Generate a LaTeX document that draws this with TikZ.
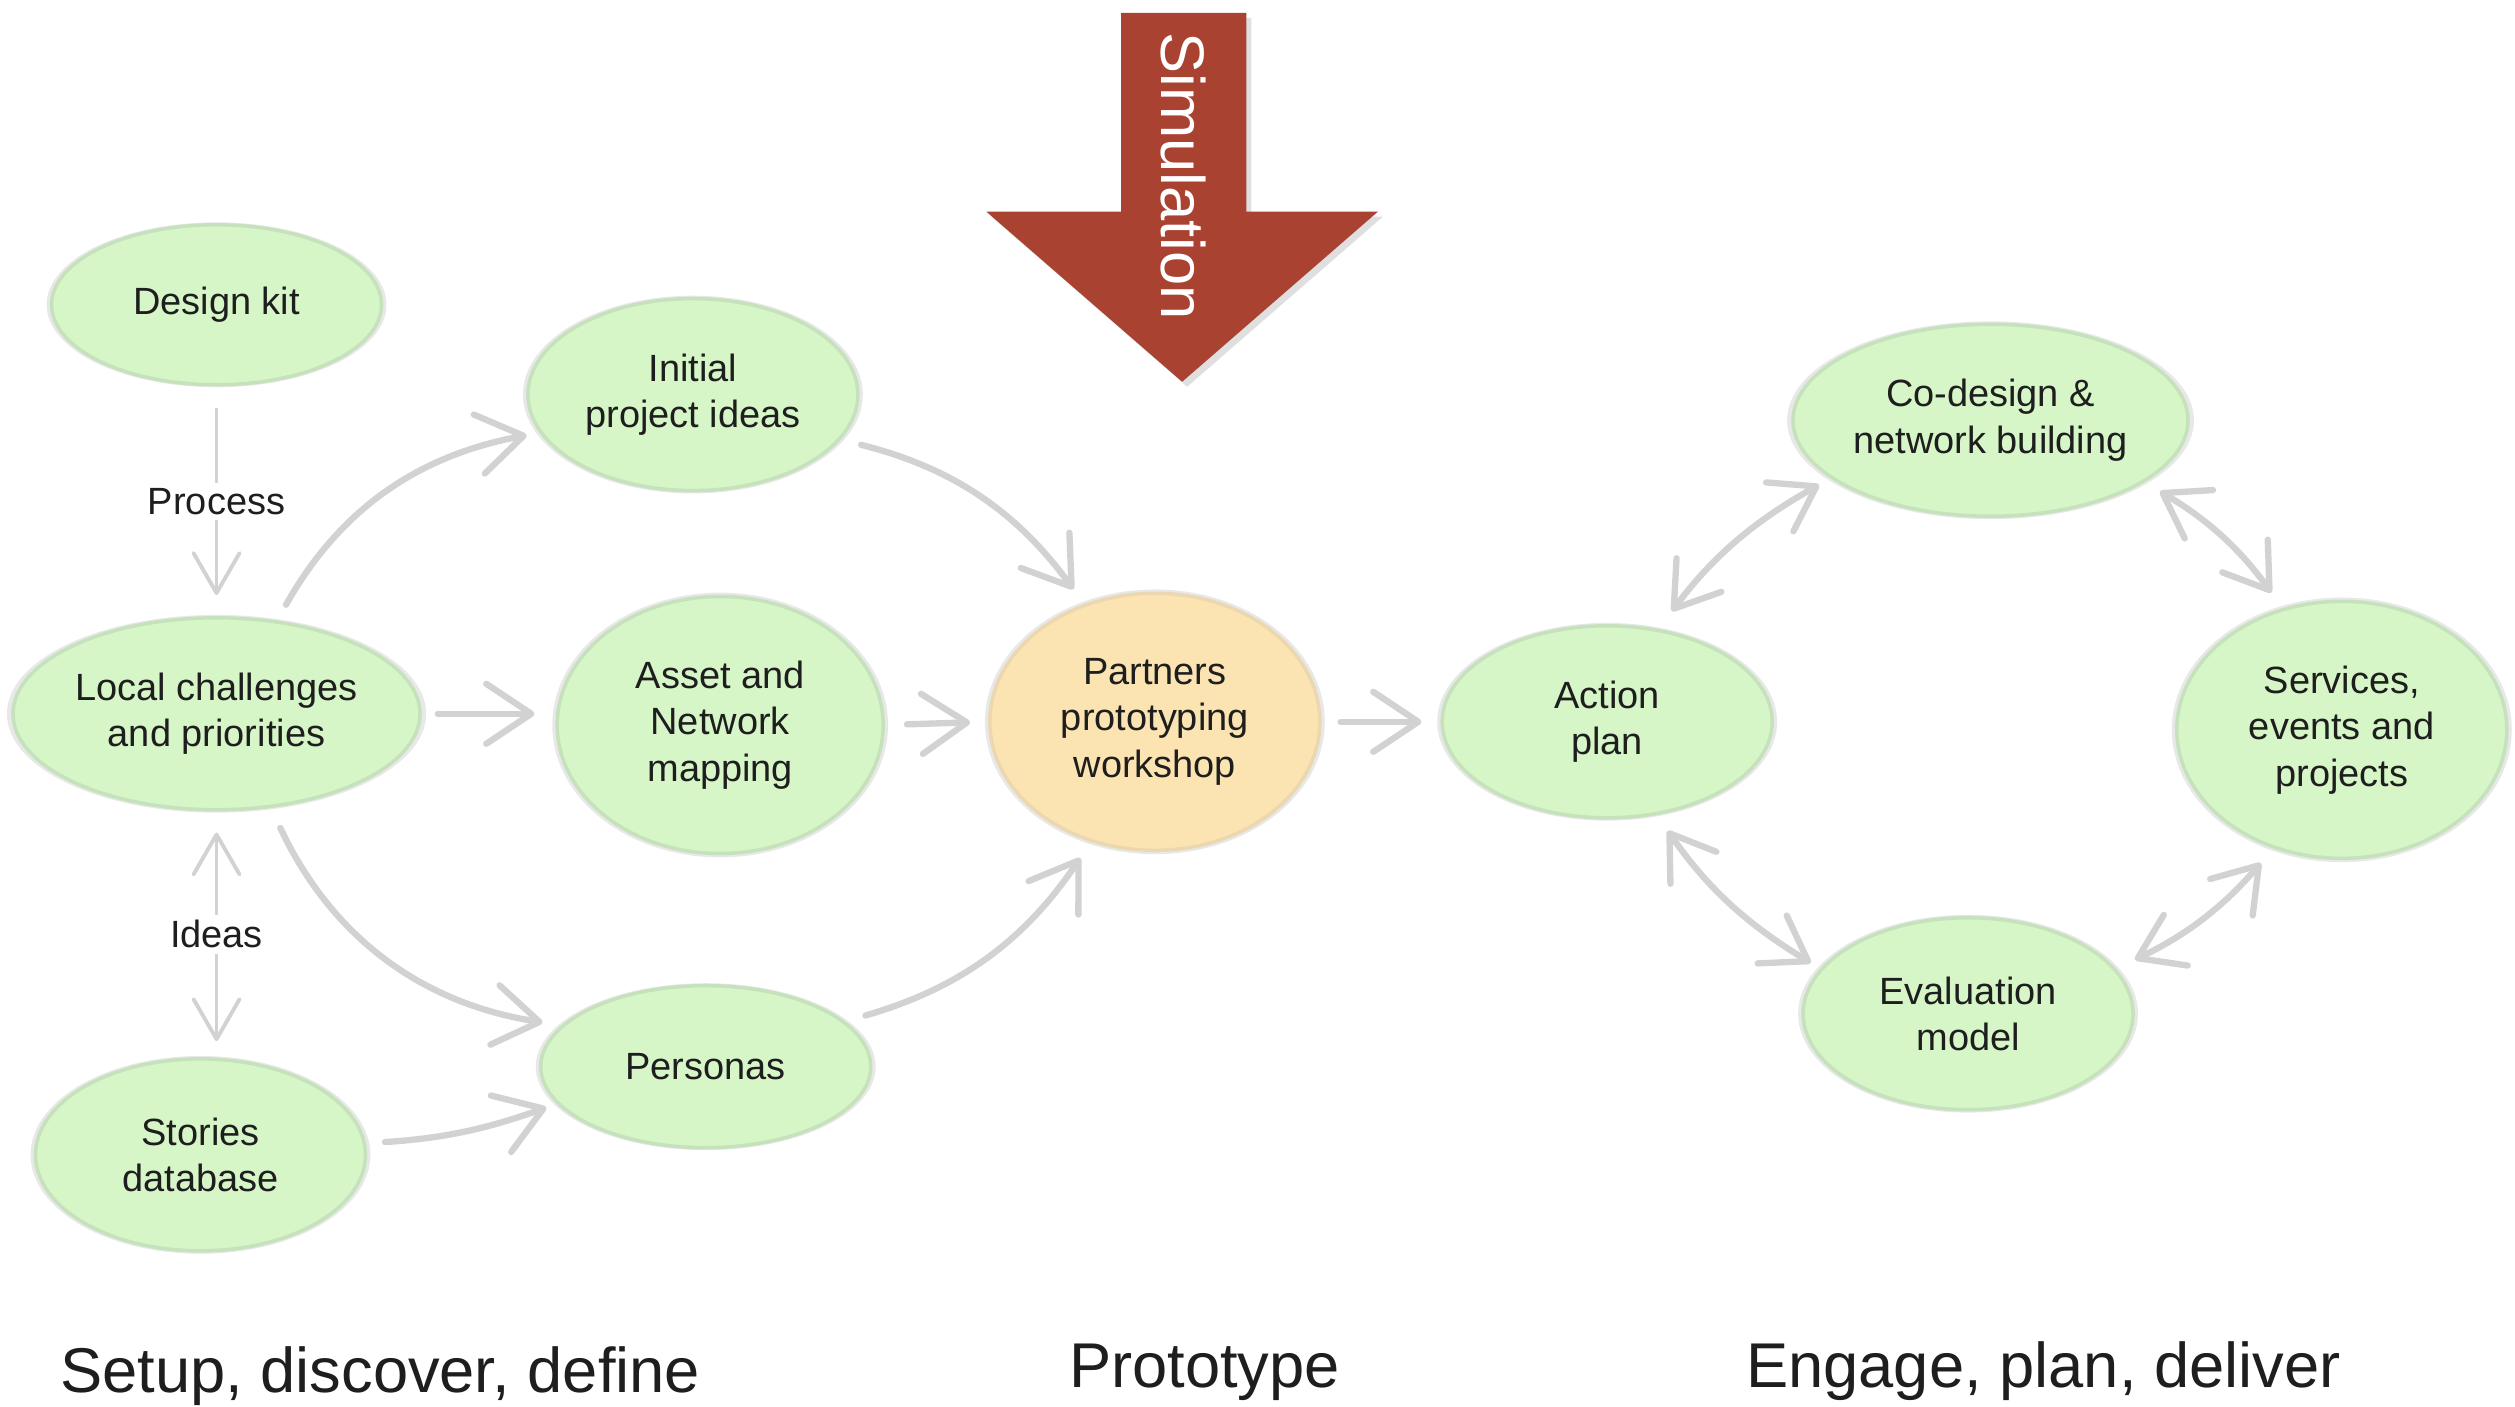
\documentclass[tikz,border=0pt]{standalone}
\usepackage{fontspec}
\setmainfont{Liberation Sans}
\usetikzlibrary{shapes.geometric,arrows.meta,shadows}
\definecolor{bubblegreen}{RGB}{214,246,200}
\definecolor{bubbleedge}{RGB}{198,226,188}
\definecolor{bubbleorange}{RGB}{252,228,178}
\definecolor{orangeedge}{RGB}{236,216,176}
\definecolor{flowgray}{RGB}{210,210,210}
\definecolor{simred}{RGB}{170,66,50}
\definecolor{textgray}{RGB}{30,30,30}
\begin{document}
\begin{tikzpicture}[x=0.1604mm,y=0.1604mm,
    bubble/.style={ellipse,draw=bubbleedge,line width=1pt,fill=bubblegreen,align=center,
      text=textgray,font=\fontsize{10.8}{13.2}\selectfont,inner sep=0pt,
      general shadow={fill=black!9,shadow scale=1.03}},
    flow/.style={draw=flowgray,line width=1.8pt,line cap=round,-{Straight Barb[length=4.5mm,width=6mm,round]}},
    thinflow/.style={draw=flowgray,line width=1.1pt,-{Straight Barb[length=4mm,width=4.6mm,round]}},
    cycle/.style={draw=flowgray,line width=1.8pt,line cap=round,
      {Straight Barb[length=4.2mm,width=5.6mm,round]}-{Straight Barb[length=4.2mm,width=5.6mm,round]}},
    flowlabel/.style={fill=white,text=textgray,inner sep=1.5pt,font=\fontsize{10.8}{13.2}\selectfont},
    phase/.style={anchor=base,text=textgray,font=\fontsize{18}{22}\selectfont}]
  \useasboundingbox (0,0) rectangle (1568,-877);

  % simulation arrow
  \fill[simred,drop shadow={opacity=0.25,shadow xshift=0.5mm,shadow yshift=-0.5mm}]
    (699,-8) -- (777,-8) -- (777,-132) -- (859,-132) -- (737,-238) -- (615,-132) -- (699,-132) -- cycle;
  \node[rotate=-90,text=white,font=\fontsize{17.5}{20}\selectfont] (simlabel) at (738,-110) {Simulation};

  % setup, discover, define
  \node[bubble,minimum width=33mm,minimum height=16mm] (design) at (135,-190) {Design kit};
  \node[bubble,minimum width=33mm,minimum height=19.2mm] (initial) at (432,-246) {Initial\\project ideas};
  \node[bubble,minimum width=40.7mm,minimum height=19.2mm] (local) at (135,-445) {Local challenges\\and priorities};
  \node[bubble,minimum width=32.6mm,minimum height=25.7mm] (asset) at (449,-452) {Asset and\\Network\\mapping};
  \node[bubble,minimum width=33mm,minimum height=16.2mm] (personas) at (440,-665) {Personas};
  \node[bubble,minimum width=33mm,minimum height=19.2mm] (stories) at (125,-720) {Stories\\database};

  % prototype
  \node[bubble,fill=bubbleorange,draw=orangeedge,minimum width=33mm,minimum height=25.7mm] (partners) at (720,-450) {Partners\\prototyping\\workshop};

  % engage, plan, deliver
  \node[bubble,minimum width=33mm,minimum height=19.2mm] (action) at (1002,-450) {Action\\plan};
  \node[bubble,minimum width=39.5mm,minimum height=19.2mm] (codesign) at (1241,-262) {Co-design \&\\network building};
  \node[bubble,minimum width=33mm,minimum height=25.7mm] (services) at (1460,-455) {Services,\\events and\\projects};
  \node[bubble,minimum width=33mm,minimum height=19.2mm] (evaluation) at (1227,-632) {Evaluation\\model};

  % connectors
  \draw[thinflow,shorten <=2.1mm,shorten >=2.1mm] (design.south) -- node[flowlabel] {Process} (local.north);
  \draw[thinflow,{Straight Barb[length=4mm,width=4.6mm,round]}-{Straight Barb[length=4mm,width=4.6mm,round]},shorten <=2.1mm,shorten >=1.6mm]
    (local.south) -- node[flowlabel] {Ideas} (local.south |- stories.north);
  \draw[flow,shorten <=1.8mm,shorten >=1.3mm] (local.57) to[bend left=25] (initial.194);
  \draw[flow,shorten <=1.6mm,shorten >=2.1mm] (local.east) -- (local.east -| asset.west);
  \draw[flow,shorten <=2.2mm,shorten >=1.9mm] (local.-60) to[bend right=28] (personas.164);
  \draw[flow,shorten <=1.9mm,shorten >=1.1mm] (stories.4) to[bend right=8] (personas.194);
  \draw[flow,shorten <=2.1mm,shorten >=1.8mm] (initial.-17) to[bend left=20] (partners.121);
  \draw[flow,shorten <=2.2mm,shorten >=1.8mm] (asset.east) -- (partners.west);
  \draw[flow,shorten <=2.1mm,shorten >=1.9mm] (personas.18) to[bend right=20] (partners.242);
  \draw[flow,shorten <=1.9mm,shorten >=1.9mm] (partners.east) -- (action.west);
  \draw[cycle,shorten <=2.2mm,shorten >=1.3mm] (action.61) to[bend left=12] (codesign.200);
  \draw[cycle,shorten <=1.8mm,shorten >=1.9mm] (codesign.-22) to[bend left=12] (services.116);
  \draw[cycle,shorten <=1.9mm,shorten >=2.1mm] (services.240) to[bend left=12] (evaluation.17);
  \draw[cycle,shorten <=1.1mm,shorten >=1.9mm] (evaluation.163) to[bend left=12] (action.-62);

  % phases
  \node[phase] (setup) at (237,-868) {Setup, discover, define};
  \node[phase] (prototype) at (751,-865) {Prototype};
  \node[phase] (engage) at (1274,-865) {Engage, plan, deliver};
\end{tikzpicture}
\end{document}
